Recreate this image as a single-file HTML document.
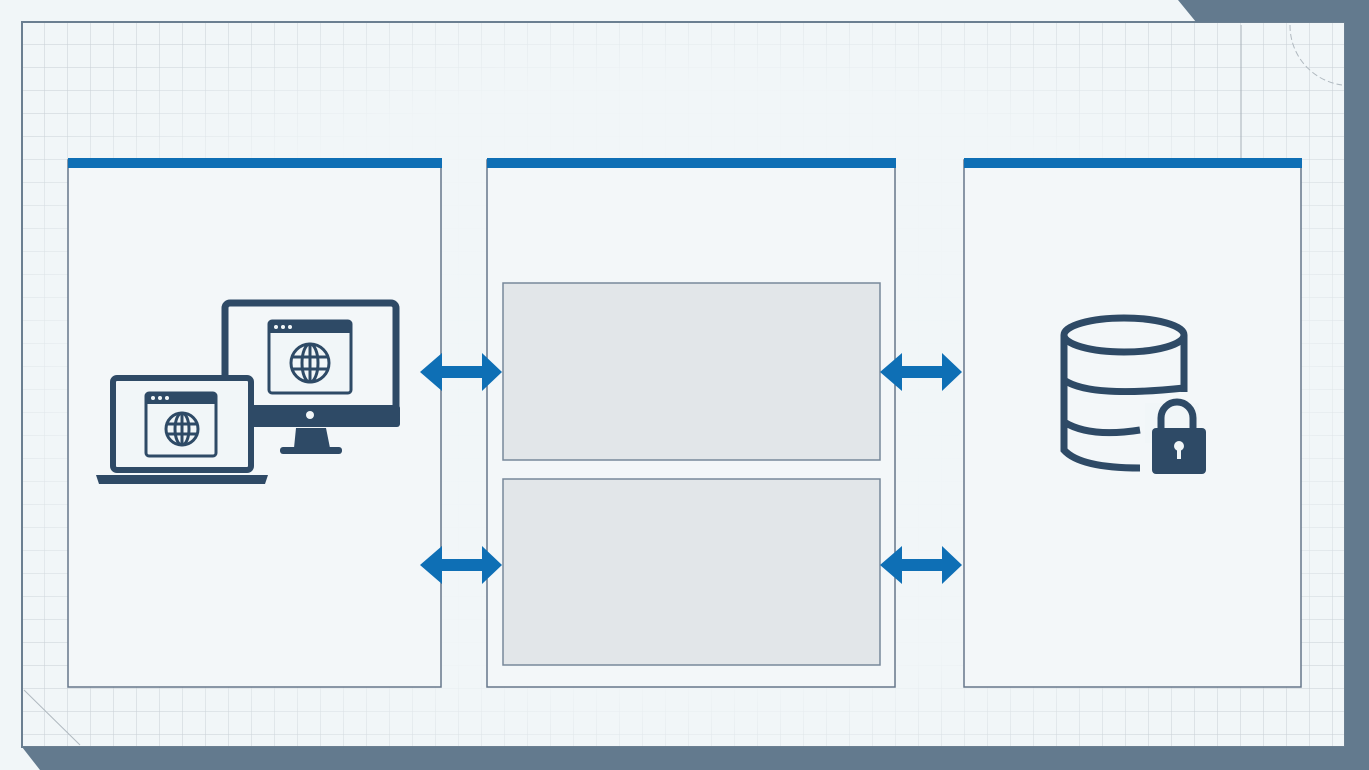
<!DOCTYPE html>
<html><head><style>html,body{margin:0;padding:0;background:#f1f6f8;}svg{display:block}</style></head><body>
<svg width="1369" height="770" viewBox="0 0 1369 770" xmlns="http://www.w3.org/2000/svg">
<defs>
<pattern id="g" width="23" height="23" patternUnits="userSpaceOnUse" x="22" y="22">
<path d="M23 0V23M0 23H23" fill="none" stroke="#b9c2c9" stroke-width="1"/>
</pattern>
<radialGradient id="fade" cx="0.5" cy="0.5" r="0.6">
<stop offset="0" stop-color="#f1f6f8" stop-opacity="1"/>
<stop offset="0.7" stop-color="#f1f6f8" stop-opacity="0.95"/>
<stop offset="1" stop-color="#f1f6f8" stop-opacity="0.25"/>
</radialGradient>
</defs>
<rect width="1369" height="770" fill="#f1f6f8"/>
<rect x="22" y="22" width="1323" height="725" fill="url(#g)"/>
<rect x="22" y="22" width="1323" height="725" fill="url(#fade)"/>
<rect x="22" y="22" width="1323" height="725" fill="none" stroke="#6b7f91" stroke-width="2"/>
<polygon points="1178,0 1369,0 1369,770 40,770 22,747 1345,747 1345,22 1196,22" fill="#637a8e"/>
<line x1="1241" y1="25" x2="1241" y2="158" stroke="#a6b0b8"/>
<path d="M1290 25 A60 60 0 0 0 1342 85" fill="none" stroke="#b0b9c0" stroke-dasharray="6 3"/>
<line x1="24" y1="690" x2="80" y2="745" stroke="#b0b9c0"/>
<g fill="#f3f7f9" stroke="#66778a" stroke-width="1.5">
<rect x="68" y="160" width="373" height="527"/>
<rect x="487" y="160" width="408" height="527"/>
<rect x="964" y="160" width="337" height="527"/>
</g>
<g fill="#0e6fb5">
<rect x="68" y="158" width="374" height="10"/>
<rect x="487" y="158" width="409" height="10"/>
<rect x="964" y="158" width="338" height="10"/>
</g>
<g fill="#e2e6e9" stroke="#78889a" stroke-width="1.5">
<rect x="503" y="283" width="377" height="177"/>
<rect x="503" y="479" width="377" height="186"/>
</g>
<g fill="#0e6fb5">
<polygon id="a" points="420,372 442,353 442,366 482,366 482,353 502,372 482,391 482,378 442,378 442,391"/>
<use href="#a" transform="translate(0,193)"/>
<use href="#a" transform="translate(460,0)"/>
<use href="#a" transform="translate(460,193)"/>
</g>
<g fill="none" stroke="#2e4a66">
<rect x="225" y="303" width="171" height="120" rx="5" stroke-width="7"/>
</g>
<rect x="222" y="405" width="178" height="22" fill="#2e4a66" rx="3"/>
<circle cx="310" cy="415" r="4" fill="#f1f6f8"/>
<polygon points="296,428 326,428 330,448 294,448" fill="#2e4a66"/>
<rect x="280" y="447" width="62" height="7" rx="3" fill="#2e4a66"/>
<rect x="269" y="321" width="82" height="72" rx="3" fill="#f1f6f8" stroke="#2e4a66" stroke-width="3"/>
<rect x="269" y="321" width="82" height="12" fill="#2e4a66"/>
<g fill="#f1f6f8"><circle cx="276" cy="327" r="2"/><circle cx="283" cy="327" r="2"/><circle cx="290" cy="327" r="2"/></g>
<g fill="none" stroke="#2e4a66" stroke-width="3">
<circle cx="310" cy="363" r="19"/><ellipse cx="310" cy="363" rx="8" ry="19"/><path d="M291 357H329M291 369H329M310 344V382"/>
</g>
<rect x="113" y="378" width="138" height="92" rx="4" fill="#f1f6f8" stroke="#2e4a66" stroke-width="6"/>
<path d="M96 475 H268 L265 484 H99 Z" fill="#2e4a66"/>
<rect x="146" y="393" width="70" height="63" rx="3" fill="#f1f6f8" stroke="#2e4a66" stroke-width="3"/>
<rect x="146" y="393" width="70" height="11" fill="#2e4a66"/>
<g fill="#f1f6f8"><circle cx="153" cy="398" r="2"/><circle cx="160" cy="398" r="2"/><circle cx="167" cy="398" r="2"/></g>
<g fill="none" stroke="#2e4a66" stroke-width="3">
<circle cx="182" cy="429" r="16"/><ellipse cx="182" cy="429" rx="7" ry="16"/><path d="M166 424H198M166 434H198M182 413V445"/>
</g>
<g fill="none" stroke="#2e4a66" stroke-width="7">
<ellipse cx="1124" cy="335" rx="60" ry="17"/>
<path d="M1064 335 V450 Q1080 468 1140 468"/>
<path d="M1184 335 V392"/>
<path d="M1064 380 Q1090 398 1184 388"/>
<path d="M1064 422 Q1090 438 1140 430"/>
</g>
<rect x="1145" y="403" width="54" height="40" fill="#f1f6f8"/>
<path d="M1161 430 V418 a16 16 0 0 1 32 0 V430" fill="none" stroke="#2e4a66" stroke-width="7"/>
<rect x="1152" y="428" width="54" height="46" rx="4" fill="#2e4a66"/>
<circle cx="1179" cy="446" r="5" fill="#f1f6f8"/>
<rect x="1177" y="447" width="4" height="12" fill="#f1f6f8"/>
</svg>
</body></html>
